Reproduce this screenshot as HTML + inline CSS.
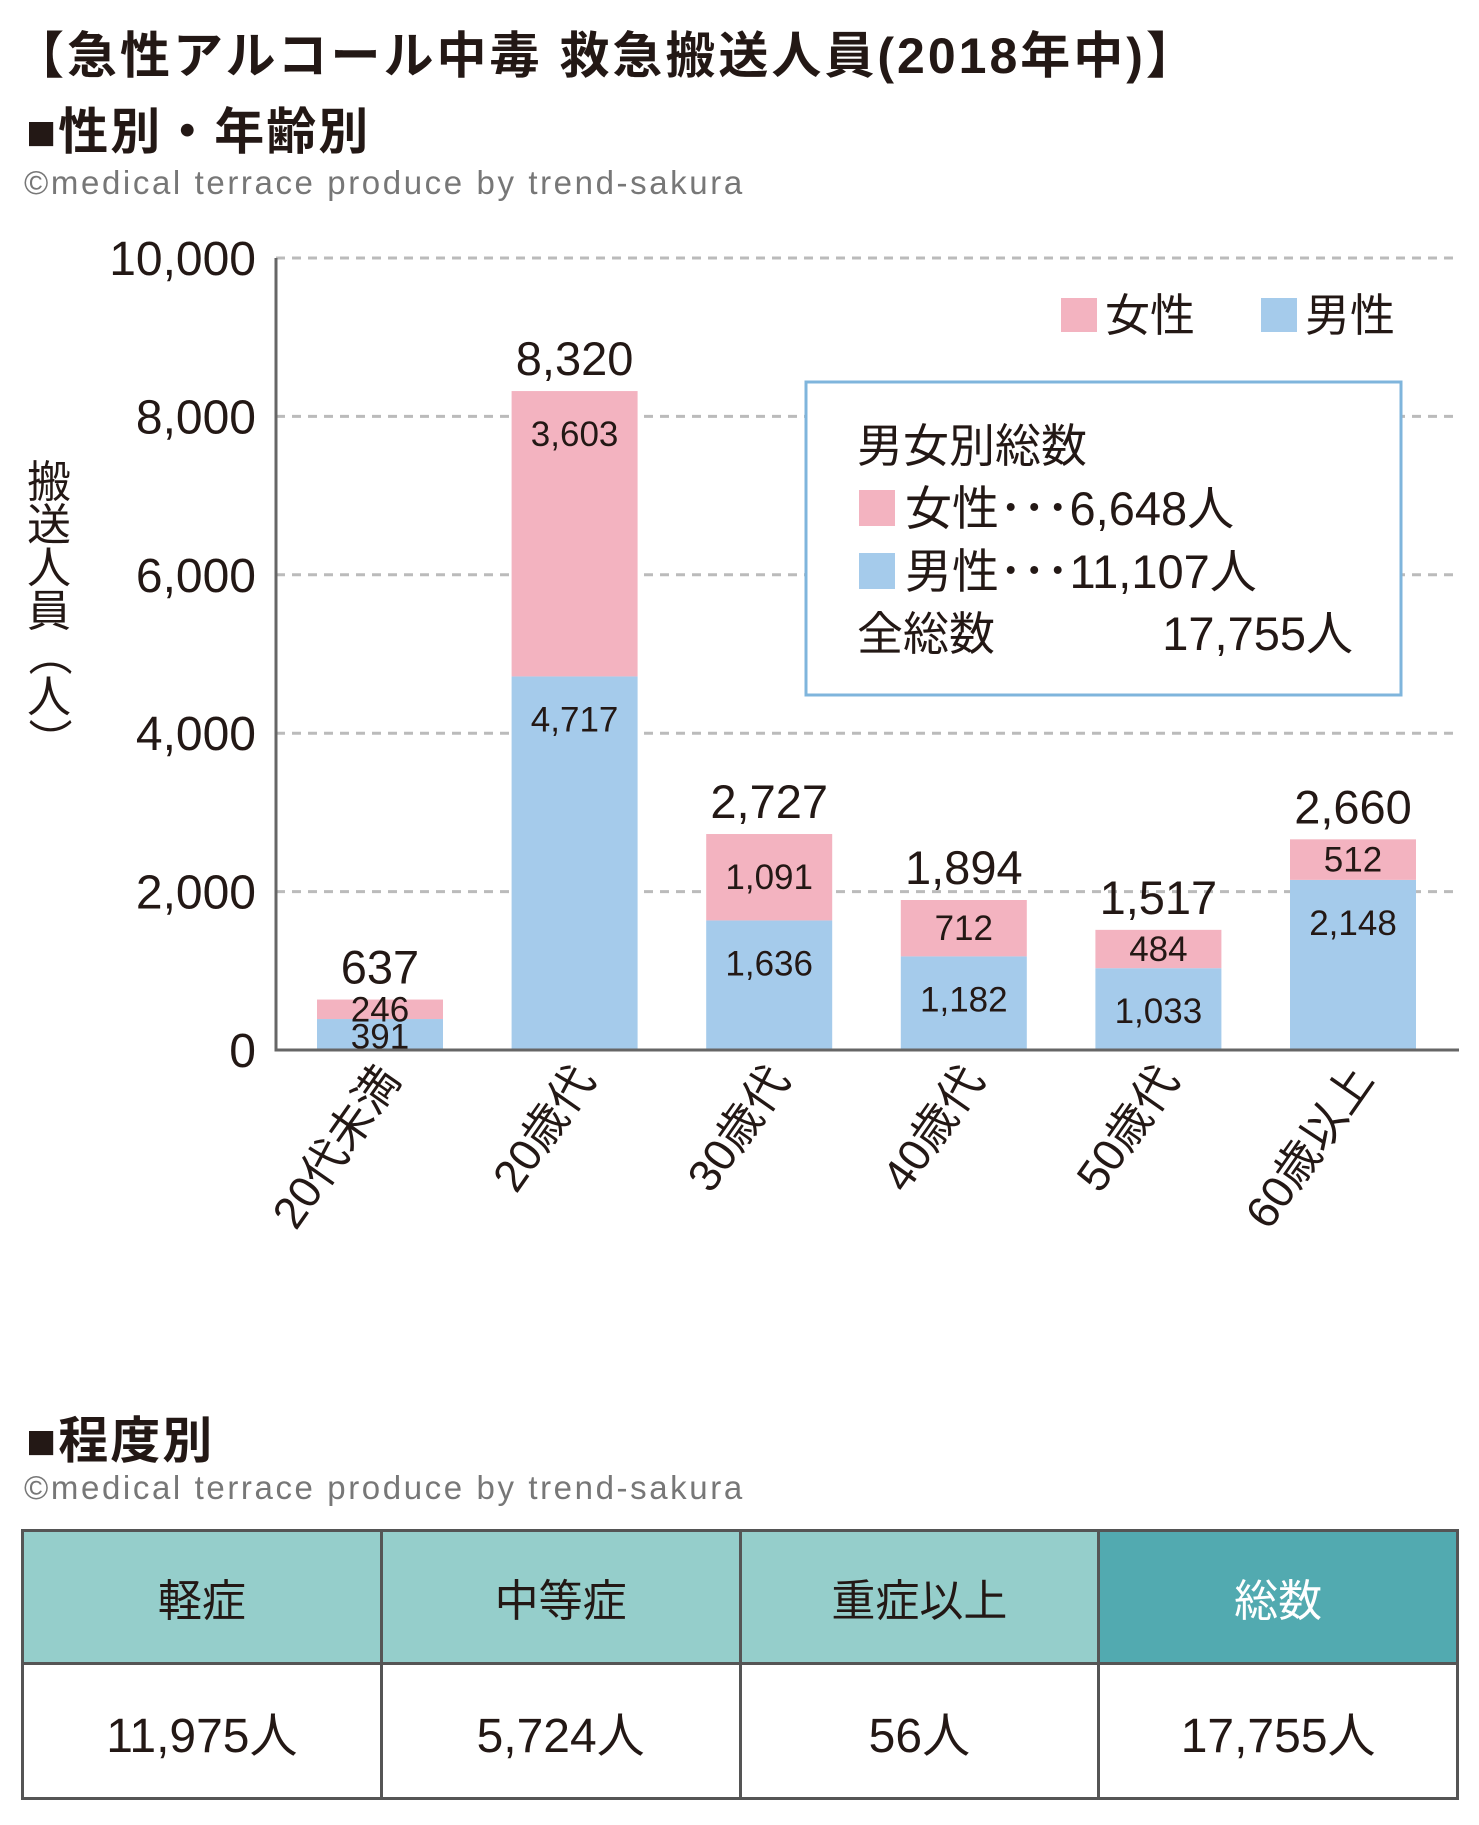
<!DOCTYPE html>
<html><head><meta charset="utf-8">
<style>
html,body{margin:0;padding:0;background:#fff;}
body{width:1479px;height:1825px;overflow:hidden;position:relative;font-family:"Liberation Sans","Noto Sans CJK JP",sans-serif;color:#231815;}
.t{position:absolute;white-space:nowrap;}
table{border-collapse:collapse;}
</style></head>
<body>
<div class="t" style="left:14px;top:16px;font-size:50px;font-weight:bold;letter-spacing:3px;">【急性アルコール中毒 救急搬送人員(2018年中)】</div>
<div class="t" style="left:26px;top:92px;font-size:50px;font-weight:bold;letter-spacing:2px;">■性別・年齢別</div>
<div class="t" style="left:24px;top:164px;font-size:33px;letter-spacing:2.6px;color:#777;">©medical terrace produce by trend-sakura</div>

<svg id="chart" width="1479" height="1300" style="position:absolute;left:0;top:0;" font-family="Liberation Sans, Noto Sans CJK JP, sans-serif"></svg>

<div class="t" style="left:26px;top:1401px;font-size:50px;font-weight:bold;letter-spacing:2px;">■程度別</div>
<div class="t" style="left:24px;top:1469px;font-size:33px;letter-spacing:2.6px;color:#777;">©medical terrace produce by trend-sakura</div>

<table style="position:absolute;left:21px;top:1529px;width:1438px;height:271px;border:3px solid #555;">
<tr style="height:133px;font-size:44px;">
<td style="background:#95cecb;border:3px solid #555;text-align:center;width:25%;">軽症</td>
<td style="background:#95cecb;border:3px solid #555;text-align:center;width:25%;">中等症</td>
<td style="background:#95cecb;border:3px solid #555;text-align:center;width:25%;">重症以上</td>
<td style="background:#52aab0;color:#fff;border:3px solid #555;text-align:center;width:25%;">総数</td>
</tr>
<tr style="font-size:48px;">
<td style="border:3px solid #555;text-align:center;">11,975人</td>
<td style="border:3px solid #555;text-align:center;">5,724人</td>
<td style="border:3px solid #555;text-align:center;">56人</td>
<td style="border:3px solid #555;text-align:center;">17,755人</td>
</tr>
</table>

<script>
const categories = ["20代未満","20歳代","30歳代","40歳代","50歳代","60歳以上"];
const maleValues = [391,4717,1636,1182,1033,2148];
const femaleValues = [246,3603,1091,712,484,512];
const yTicks = [0,2000,4000,6000,8000,10000];

const svg = document.getElementById('chart');
const NS = 'http://www.w3.org/2000/svg';
const X0 = 276, X1 = 1459, Y0 = 1050, Y1 = 258, YMAX = 10000;
const band = 194.6, firstC = 380, barW = 126;
function y(v){ return Y0 - (v / YMAX) * (Y0 - Y1); }
function xc(i){ return firstC + i * band; }
function fmt(v){ return v.toLocaleString('en-US'); }
function mk(tag, attrs, text){
  const e = document.createElementNS(NS, tag);
  for (const k in attrs) e.setAttribute(k, attrs[k]);
  if (text !== undefined) e.textContent = text;
  svg.appendChild(e);
  return e;
}

yTicks.forEach(t => {
  if (t > 0) {
    const g = mk('line', {x1:X0, x2:X1, y1:y(t), y2:y(t), stroke:'#bbb', 'stroke-width':3, 'stroke-dasharray':'9 7'});
    
    
  }
  const l = mk('text', {x:256, y:y(t)+17, 'text-anchor':'end', 'font-size':48, fill:'#231815'}, fmt(t));
  
  
});

categories.forEach((c, i) => {
  const cx = xc(i), m = maleValues[i], f = femaleValues[i], tot = m + f;
  const bm = mk('rect', {x:cx-barW/2, y:y(m), width:barW, height:Y0-y(m), fill:'#a5cbeb'});
  
  
  const bf = mk('rect', {x:cx-barW/2, y:y(tot), width:barW, height:y(m)-y(tot), fill:'#f3b3c0'});
  
  
  const small = (y(m)-y(tot)) < 60;
  const fl = mk('text', {x:cx, y: small ? (y(tot)+y(m))/2+12 : y(tot)+55, 'text-anchor':'middle', 'font-size':35, fill:'#231815'}, fmt(f));
  
  
  const ml = mk('text', {x:cx, y: (Y0-y(m)) < 60 ? (y(m)+Y0)/2+14 : y(m)+55, 'text-anchor':'middle', 'font-size':35, fill:'#231815'}, fmt(m));
  
  
  const tl = mk('text', {x:cx, y:y(tot)-16, 'text-anchor':'middle', 'font-size':47, fill:'#231815'}, fmt(tot));
  
  
  const xl = mk('text', {x:cx+22, y:1080, 'text-anchor':'end', 'font-size':45, fill:'#231815', transform:`rotate(-55 ${cx+22} 1080)`}, c);
  
  
});

const ax = mk('path', {d:`M${X0} ${Y1} V${Y0} H${X1}`, fill:'none', stroke:'#666', 'stroke-width':3});



const ytitle = ['搬','送','人','員','（','人','）'];
ytitle.forEach((ch, k) => {
  const isP = ch === '（' || ch === '）';
  const cy = 497 + k*43;
  const t = mk('text', {x:49, y:cy, 'text-anchor':'middle', 'font-size':44, fill:'#231815', transform: isP ? `rotate(90 49 ${cy-15})` : ''}, ch);
  
  
});

const lf = mk('rect', {x:1061, y:298, width:36, height:34, fill:'#f3b3c0'});


const lft = mk('text', {x:1105, y:331, 'font-size':45, fill:'#231815'}, '女性');


const lm = mk('rect', {x:1261, y:298, width:36, height:34, fill:'#a5cbeb'});


const lmt = mk('text', {x:1305, y:331, 'font-size':45, fill:'#231815'}, '男性');



const box = mk('rect', {x:806, y:382, width:595, height:313, fill:'#fff', stroke:'#7fb5dc', 'stroke-width':3});


const s1 = mk('text', {x:857, y:462, 'font-size':46, fill:'#231815'}, '男女別総数');


const sq1 = mk('rect', {x:859, y:490, width:36, height:36, fill:'#f3b3c0'});


const s2 = mk('text', {x:905, y:525, 'font-size':47, fill:'#231815'}, '女性･･･6,648人');


const sq2 = mk('rect', {x:859, y:553, width:36, height:36, fill:'#a5cbeb'});


const s3 = mk('text', {x:905, y:588, 'font-size':47, fill:'#231815'}, '男性･･･11,107人');


const s4 = mk('text', {x:857, y:650, 'font-size':46, fill:'#231815'}, '全総数');


const s5 = mk('text', {x:1353, y:650, 'text-anchor':'end', 'font-size':47, fill:'#231815'}, '17,755人');


</script>
</body></html>
